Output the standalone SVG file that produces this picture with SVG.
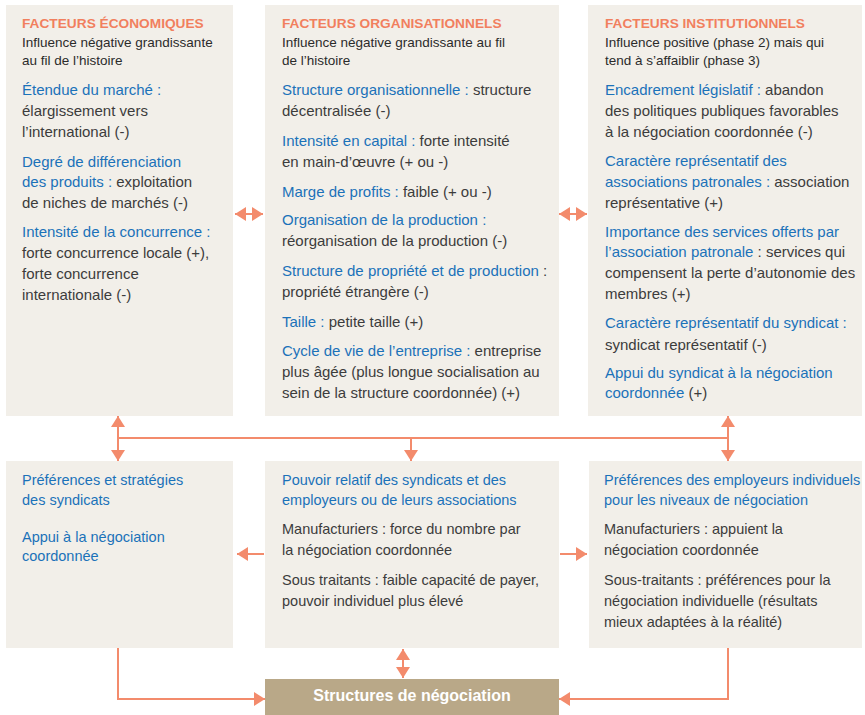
<svg xmlns="http://www.w3.org/2000/svg" width="865" height="715" viewBox="0 0 865 715">
<style>
.box{fill:#f2efe9}
.sb{fill:#b9a888}
text{font-family:"Liberation Sans",Arial,sans-serif;font-size:15px;fill:#3c3c3c}
.h{font-weight:bold;fill:#f17f5e;font-size:13.7px}
.s{font-size:13.5px;fill:#2b2b2b}
.sm{font-size:14.5px}
.b{fill:#1b72b9}
.w{fill:#ffffff;font-weight:bold;font-size:16px}
.c{stroke:#f38b6c;stroke-width:2;fill:none}
</style>
<defs>
<marker id="ah" viewBox="0 0 11 14" refX="11" refY="7" markerWidth="11" markerHeight="14" markerUnits="userSpaceOnUse" orient="auto-start-reverse">
<path d="M0,0 L11,7 L0,14 z" fill="#f38b6c"/>
</marker>
</defs>

<g id="connectors">
<line class="c" x1="235" y1="214" x2="263" y2="214" marker-start="url(#ah)" marker-end="url(#ah)"/>
<line class="c" x1="559" y1="214" x2="587" y2="214" marker-start="url(#ah)" marker-end="url(#ah)"/>
<line class="c" x1="118" y1="438" x2="728" y2="438"/>
<line class="c" x1="118" y1="416" x2="118" y2="461" marker-start="url(#ah)" marker-end="url(#ah)"/>
<line class="c" x1="411" y1="438" x2="411" y2="461" marker-end="url(#ah)"/>
<line class="c" x1="728" y1="416" x2="728" y2="461" marker-start="url(#ah)" marker-end="url(#ah)"/>
<line class="c" x1="264" y1="554" x2="237" y2="554" marker-end="url(#ah)"/>
<line class="c" x1="560" y1="554" x2="587" y2="554" marker-end="url(#ah)"/>
<line class="c" x1="403" y1="649" x2="403" y2="678" marker-start="url(#ah)" marker-end="url(#ah)"/>
<path class="c" d="M118,648 V699 H265" marker-end="url(#ah)"/>
<path class="c" d="M728,648 V699 H559" marker-end="url(#ah)"/>
</g>

<g id="economiques">
<rect class="box" x="6" y="5" width="227" height="411"/>
<text class="h" x="22" y="28">FACTEURS ÉCONOMIQUES</text>
<text class="s" x="22" y="47">Influence négative grandissante</text>
<text class="s" x="22" y="65">au fil de l’histoire</text>
<text class="b" x="22" y="95">Étendue du marché :</text>
<text x="22" y="116">élargissement vers</text>
<text x="22" y="137">l’international (-)</text>
<text x="22" y="167"><tspan class="b">Degré de différenciation</tspan></text>
<text x="22" y="187"><tspan class="b">des produits :</tspan> exploitation</text>
<text x="22" y="208">de niches de marchés (-)</text>
<text class="b" x="22" y="237">Intensité de la concurrence :</text>
<text x="22" y="258">forte concurrence locale (+),</text>
<text x="22" y="279">forte concurrence</text>
<text x="22" y="300">internationale (-)</text>
</g>

<g id="organisationnels">
<rect class="box" x="265" y="5" width="294" height="411"/>
<text class="h" x="282" y="28">FACTEURS ORGANISATIONNELS</text>
<text class="s" x="282" y="47">Influence négative grandissante au fil</text>
<text class="s" x="282" y="65">de l’histoire</text>
<text x="282" y="95"><tspan class="b">Structure organisationnelle :</tspan> structure</text>
<text x="282" y="116">décentralisée (-)</text>
<text x="282" y="146"><tspan class="b">Intensité en capital :</tspan> forte intensité</text>
<text x="282" y="167">en main-d’œuvre (+ ou -)</text>
<text x="282" y="197"><tspan class="b">Marge de profits :</tspan> faible (+ ou -)</text>
<text class="b" x="282" y="225">Organisation de la production :</text>
<text x="282" y="246">réorganisation de la production (-)</text>
<text x="282" y="276"><tspan class="b">Structure de propriété et de production</tspan> :</text>
<text x="282" y="297">propriété étrangère (-)</text>
<text x="282" y="327"><tspan class="b">Taille :</tspan> petite taille (+)</text>
<text x="282" y="356"><tspan class="b">Cycle de vie de l’entreprise :</tspan> entreprise</text>
<text x="282" y="377">plus âgée (plus longue socialisation au</text>
<text x="282" y="398">sein de la structure coordonnée) (+)</text>
</g>

<g id="institutionnels">
<rect class="box" x="588" y="5" width="274" height="411"/>
<text class="h" x="605" y="28">FACTEURS INSTITUTIONNELS</text>
<text class="s" x="605" y="47">Influence positive (phase 2) mais qui</text>
<text class="s" x="605" y="65">tend à s’affaiblir (phase 3)</text>
<text x="605" y="95"><tspan class="b">Encadrement législatif :</tspan> abandon</text>
<text x="605" y="116">des politiques publiques favorables</text>
<text x="605" y="137">à la négociation coordonnée (-)</text>
<text class="b" x="605" y="166">Caractère représentatif des</text>
<text x="605" y="187"><tspan class="b">associations patronales :</tspan> association</text>
<text x="605" y="208">représentative (+)</text>
<text class="b" x="605" y="237">Importance des services offerts par</text>
<text x="605" y="257"><tspan class="b">l’association patronale</tspan> : services qui</text>
<text x="605" y="278">compensent la perte d’autonomie des</text>
<text x="605" y="299">membres (+)</text>
<text class="b" x="605" y="328">Caractère représentatif du syndicat :</text>
<text x="605" y="350">syndicat représentatif (-)</text>
<text class="b" x="605" y="378">Appui du syndicat à la négociation</text>
<text x="605" y="398"><tspan class="b">coordonnée</tspan> (+)</text>
</g>

<g id="syndicats">
<rect class="box" x="6" y="461" width="227" height="187"/>
<text class="b sm" x="22" y="485">Préférences et stratégies</text>
<text class="b sm" x="22" y="505">des syndicats</text>
<text class="b sm" x="22" y="542">Appui à la négociation</text>
<text class="b sm" x="22" y="561">coordonnée</text>
</g>

<g id="pouvoir">
<rect class="box" x="265" y="461" width="294" height="187"/>
<text class="b sm" x="282" y="485">Pouvoir relatif des syndicats et des</text>
<text class="b sm" x="282" y="505">employeurs ou de leurs associations</text>
<text class="sm" x="282" y="534">Manufacturiers : force du nombre par</text>
<text class="sm" x="282" y="555">la négociation coordonnée</text>
<text class="sm" x="282" y="585">Sous traitants : faible capacité de payer,</text>
<text class="sm" x="282" y="606">pouvoir individuel plus élevé</text>
</g>

<g id="employeurs">
<rect class="box" x="589" y="461" width="273" height="187"/>
<text class="b sm" x="604" y="485">Préférences des employeurs individuels</text>
<text class="b sm" x="604" y="505">pour les niveaux de négociation</text>
<text class="sm" x="604" y="534">Manufacturiers : appuient la</text>
<text class="sm" x="604" y="555">négociation coordonnée</text>
<text class="sm" x="604" y="585">Sous-traitants : préférences pour la</text>
<text class="sm" x="604" y="606">négociation individuelle (résultats</text>
<text class="sm" x="604" y="627">mieux adaptées à la réalité)</text>
</g>

<g id="structures">
<rect class="sb" x="265" y="679" width="294" height="36"/>
<text class="w" x="412" y="701" text-anchor="middle">Structures de négociation</text>
</g>
</svg>
